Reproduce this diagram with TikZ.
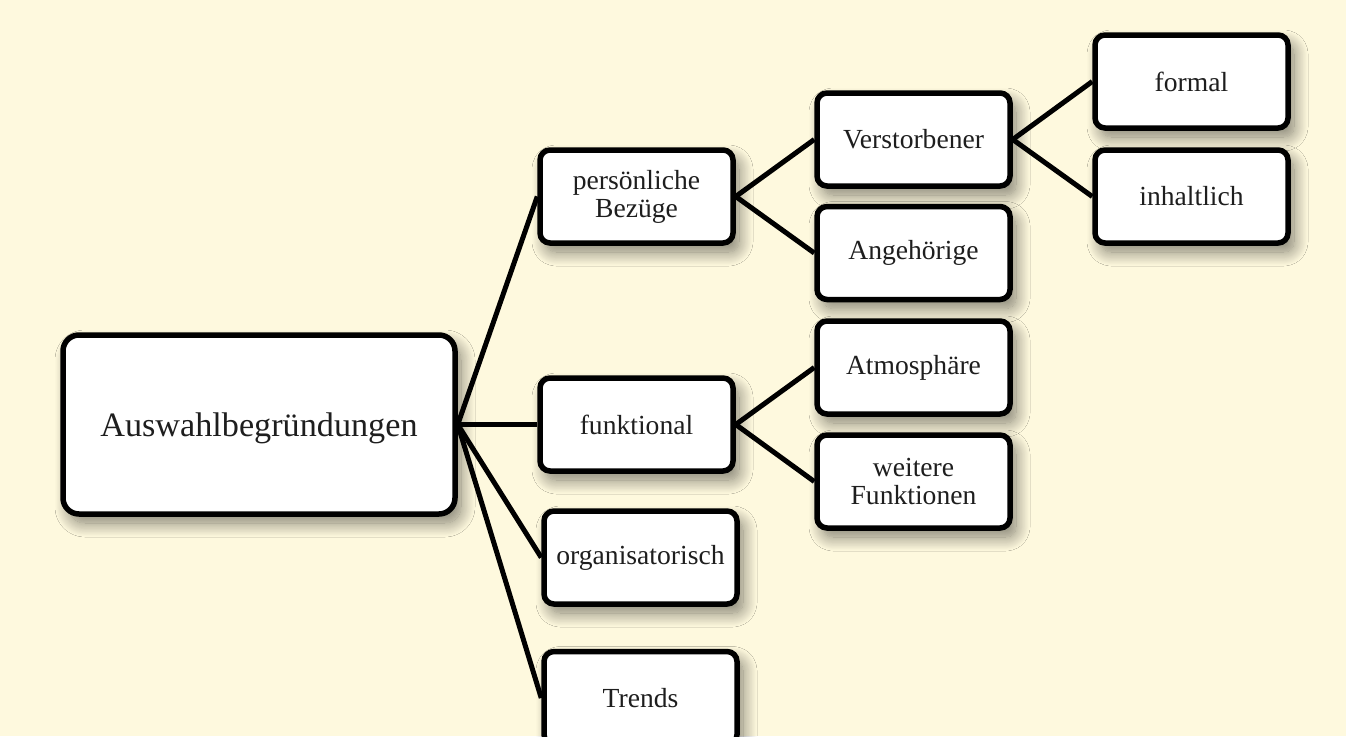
\documentclass[tikz,border=0pt]{standalone}
\usepackage{fontspec}
\setmainfont{Liberation Serif}
\usetikzlibrary{shadows.blur}
\definecolor{paper}{RGB}{254,249,222}
\definecolor{inktext}{RGB}{30,30,30}
\tikzset{
  topicbox/.style={draw=black, fill=white, line width=5.5pt, rounded corners=10pt,
    minimum width=193pt, minimum height=93pt, inner sep=0pt, align=center,
    text=inktext, font=\fontsize{27.6}{28}\selectfont,
    blur shadow={shadow xshift=6pt, shadow yshift=-9pt, shadow blur radius=14pt,
      shadow blur steps=20, shadow opacity=50}},
  rootbox/.style={topicbox, rounded corners=16pt, minimum width=392pt, minimum height=179pt,
    font=\fontsize{34.2}{36}\selectfont, text height=24pt, text depth=0pt},
  branch/.style={line width=5pt, black}
}
\begin{document}
\begin{tikzpicture}[x=1pt, y=-1pt]
% Page and background
\useasboundingbox (0,0) rectangle (1346,736);
\fill[paper] (0,0) rectangle (1346,736);

% Root and first level
\node[rootbox] (root) at (259, 424.5) {Auswahlbegründungen};
\node[topicbox] (pers) at (636.5, 196.5) {persönliche\\Bezüge};
\node[topicbox] (funk) at (636.5, 424.5) {funktional};
\node[topicbox] (orga) at (640.5, 557.5) {organisatorisch};
\node[topicbox] (trends) at (640.5, 698) {Trends};

% Second level
\node[topicbox] (verst) at (913.5, 139.5) {Verstorbener};
\node[topicbox] (angeh) at (913.5, 253) {Angehörige};
\node[topicbox] (atmos) at (913.5, 367.5) {Atmosphäre};
\node[topicbox] (weitere) at (913.5, 481.5) {weitere\\Funktionen};

% Third level
\node[topicbox] (formal) at (1191.5, 81.5) {formal};
\node[topicbox] (inhalt) at (1191.5, 196.5) {inhaltlich};

% Connectors
\foreach \child in {pers, funk, orga, trends}
  \draw[branch] (root.east) -- (\child.west);
\foreach \child in {verst, angeh}
  \draw[branch] (pers.east) -- (\child.west);
\foreach \child in {atmos, weitere}
  \draw[branch] (funk.east) -- (\child.west);
\foreach \child in {formal, inhalt}
  \draw[branch] (verst.east) -- (\child.west);
\end{tikzpicture}
\end{document}
